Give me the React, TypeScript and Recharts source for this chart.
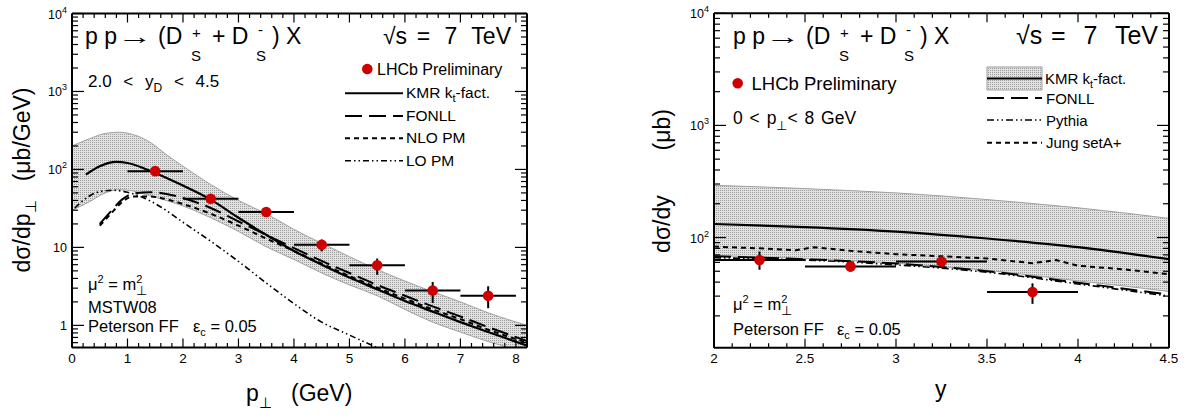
import React from 'react';
import { ComposedChart, Area, Line, Scatter, ErrorBar, XAxis, YAxis } from 'recharts';

const FONT = '"Liberation Sans", Arial, Helvetica, sans-serif';

// ---------- left panel: dsigma/dpT, 2.0 < y < 4.5 ----------
const ptBandX = [0, 0.3, 0.6, 0.85, 1.1, 1.4, 1.7, 2.0, 2.5, 3.0, 3.5, 4.0, 4.5, 5.0, 5.5, 6.0, 6.5, 7.0, 7.5, 8.2];
const ptBandHi = [200, 245, 290, 300, 280, 225, 155, 110, 64, 40, 27, 17, 11.3, 7.6, 5.2, 3.7, 2.7, 2.0, 1.45, 1.0];
const ptBandLo = [30, 38, 50, 55, 53, 46, 40, 34, 24, 16, 10.2, 7, 4.7, 3.3, 2.4, 1.6, 1.1, 0.82, 0.62, 0.45];

const ptKmrX = [0.25, 0.5, 0.8, 1.0, 1.3, 1.5, 2.0, 2.5, 3.0, 3.5, 4.0, 4.5, 5.0, 5.5, 6.0, 6.5, 7.0, 7.5, 8.2];
const ptKmr = [86, 110, 125, 121, 103, 90, 62, 41, 24, 14.5, 9.0, 6.0, 4.1, 2.9, 2.05, 1.5, 1.1, 0.82, 0.55];

const ptFonllX = [0.5, 0.7, 0.9, 1.1, 1.4, 1.6, 2.0, 2.5, 3.0, 3.5, 4.0, 4.5, 5.0, 5.5, 6.0, 6.5, 7.0, 7.5, 8.2];
const ptFonll = [20, 29, 41, 49, 51, 50, 43, 32, 21.5, 14.5, 9.8, 6.7, 4.7, 3.3, 2.4, 1.75, 1.3, 0.95, 0.63];
const ptNlo = [19, 27, 38, 45, 45, 43, 36, 27, 19, 13, 9.0, 6.2, 4.3, 3.05, 2.2, 1.6, 1.2, 0.88, 0.6];

const ptLoX = [0.05, 0.3, 0.5, 0.75, 1.0, 1.3, 1.6, 2.0, 2.5, 3.0, 3.5, 4.0, 4.5, 5.0, 5.6];
const ptLo = [32, 45, 52, 54, 51, 43, 33, 21, 12, 6.6, 3.5, 1.9, 1.1, 0.75, 0.48];

const ptDataX = [1.5, 2.5, 3.5, 4.5, 5.5, 6.5, 7.5];
const ptDataY = [95, 42, 28.4, 10.8, 5.9, 2.8, 2.4];
const ptDataErrLo = [8, 3.5, 2.5, 1.9, 1.45, 0.87, 0.74];
const ptDataErrHi = [8, 3.5, 2.5, 1.8, 1.3, 0.8, 0.77];

const ptXLabels = [0, 1, 2, 3, 4, 5, 6, 7, 8];

// ---------- right panel: dsigma/dy, 0 < pT < 8 GeV ----------
const yBandX = [2.0, 2.25, 2.5, 2.75, 3.0, 3.25, 3.5, 3.75, 4.0, 4.25, 4.5];
const yBandHi = [292, 283, 273, 262, 250, 235, 218, 201, 184, 166, 148];
const yBandLo = [69, 67, 65, 62, 59, 55, 51, 46, 41, 37, 33];

const yKmrX = [2.0, 2.5, 3.0, 3.5, 4.0, 4.5];
const yKmr = [132, 124, 113, 98, 82, 64];
const yFonll = [68, 64, 58.5, 50, 39.5, 31];
const yPythia = [66, 63, 57, 49, 38.5, 30];

const yJungX = [2.0, 2.25, 2.45, 2.55, 2.75, 3.0, 3.25, 3.5, 3.75, 3.88, 4.0, 4.25, 4.5];
const yJung = [83, 80, 77, 82, 76, 71, 68, 65, 59, 63, 56, 52, 47];

const yDataX = [2.25, 2.75, 3.25, 3.75];
const yDataY = [63, 55, 61, 32.6];
const yDataErrLo = [11.4, 5.2, 3, 7];
const yDataErrHi = [12, 6, 3.5, 6.4];

const yXLabels = [2, 2.5, 3, 3.5, 4, 4.5];

// ---------- helpers ----------
const series = (xs: number[], ys: number[]) => xs.map((x, i) => ({ x, y: ys[i] }));

const decadeTicks = (lo: number, hi: number) => {
  const out: number[] = [];
  for (let e = Math.floor(Math.log10(lo)); e <= Math.ceil(Math.log10(hi)); e++) {
    for (let k = 1; k <= 9; k++) {
      const v = Number((k * Math.pow(10, e)).toPrecision(3));
      if (v >= lo && v <= hi) out.push(v);
    }
  }
  return out;
};

const stepTicks = (lo: number, hi: number, step: number) => {
  const out: number[] = [];
  for (let i = 0; lo + i * step <= hi + 1e-9; i++) out.push(Number((lo + i * step).toFixed(3)));
  return out;
};

const isDecade = (v: number) => Math.abs(Math.log10(v) - Math.round(Math.log10(v))) < 1e-6;

const logTick = (side: 'left' | 'right', labels: boolean) => (p: any) => {
  const v = p.payload.value;
  const major = isDecade(v);
  const len = major ? 12 : 6;
  const d = side === 'left' ? 1 : -1;
  const e = Math.round(Math.log10(v));
  return (
    <g>
      <line x1={p.x} y1={p.y} x2={p.x + d * len} y2={p.y} stroke="#000" strokeWidth={1.2} />
      {labels && major && (
        <text x={p.x - 5} y={p.y + 5} textAnchor="end" fontSize={12.5} fontFamily={FONT} fill="#000">
          {e < 2 ? String(v) : <>10<tspan dy={-6} fontSize={9}>{e}</tspan></>}
        </text>
      )}
    </g>
  );
};

const linTick = (side: 'bottom' | 'top', majors: number[], labels: boolean) => (p: any) => {
  const v = p.payload.value;
  const major = majors.some((m) => Math.abs(m - v) < 1e-6);
  const len = major ? 9 : 4.5;
  const d = side === 'bottom' ? -1 : 1;
  return (
    <g>
      <line x1={p.x} y1={p.y} x2={p.x} y2={p.y + d * len} stroke="#000" strokeWidth={1.2} />
      {labels && major && (
        <text x={p.x} y={p.y + 15.5} textAnchor="middle" fontSize={13.5} fontFamily={FONT} fill="#000">
          {String(v)}
        </text>
      )}
    </g>
  );
};

const frame = { stroke: '#000', strokeWidth: 2 };

const Dot = (p: any) => <circle cx={p.cx} cy={p.cy} r={5.3} fill="#d00000" />;

const BandPattern = ({ id }: { id: string }) => (
  <defs>
    <pattern id={id} width={2} height={2} patternUnits="userSpaceOnUse">
      <rect width={2} height={2} fill="#e2e2e2" />
      <rect width={1} height={1} fill="#9c9c9c" />
    </pattern>
  </defs>
);

// axes are 1px thick boxes; the margins make the frame land on the reference pixels
const Axes = ({ xDomain, xTicks, xLabels, yDomain, yTicks }: any) => [
  <XAxis key="xb" xAxisId="b" dataKey="x" type="number" domain={xDomain} allowDataOverflow ticks={xTicks} interval={0}
    height={1} tickSize={0} tickMargin={0} tickLine={false} axisLine={frame} tick={linTick('bottom', xLabels, true)} />,
  <XAxis key="xt" xAxisId="t" orientation="top" dataKey="x" type="number" domain={xDomain} allowDataOverflow ticks={xTicks} interval={0}
    height={1} tickSize={0} tickMargin={0} tickLine={false} axisLine={frame} tick={linTick('top', xLabels, false)} />,
  <YAxis key="yl" yAxisId="l" type="number" scale="log" domain={yDomain} allowDataOverflow ticks={yTicks} interval={0}
    width={1} tickSize={0} tickMargin={0} tickLine={false} axisLine={frame} tick={logTick('left', true)} />,
  <YAxis key="yr" yAxisId="r" orientation="right" type="number" scale="log" domain={yDomain} allowDataOverflow ticks={yTicks} interval={0}
    width={1} tickSize={0} tickMargin={0} tickLine={false} axisLine={frame} tick={logTick('right', false)} />,
];

// ---------- left chart ----------
const PtPanel = () => {
  const band = ptBandX.map((x, i) => ({ x, band: [ptBandLo[i], ptBandHi[i]] }));
  const dataPts = ptDataX.map((x, i) => ({ x, y: ptDataY[i], ex: 0.5, ey: [ptDataErrLo[i], ptDataErrHi[i]] }));
  const xTicks = stepTicks(0, 8.2, 0.2);
  const yTicks = decadeTicks(0.52, 10000);
  return (
    <ComposedChart width={560} height={418} data={band} margin={{ top: 12.5, right: 32, bottom: 69.5, left: 71 }}>
      <BandPattern id="ptBandFill" />
      {Axes({ xDomain: [0, 8.2], xTicks, xLabels: ptXLabels, yDomain: [0.52, 10000], yTicks })}
      <Area xAxisId="b" yAxisId="l" type="monotone" dataKey="band" fill="url(#ptBandFill)" fillOpacity={1}
        stroke="#a0a0a0" strokeWidth={1} dot={false} activeDot={false} isAnimationActive={false} />
      <Line xAxisId="b" yAxisId="l" data={series(ptLoX, ptLo)} dataKey="y" type="monotone" stroke="#000" strokeWidth={1.6}
        strokeDasharray="6 3 1.5 3 1.5 3" dot={false} activeDot={false} isAnimationActive={false} />
      <Line xAxisId="b" yAxisId="l" data={series(ptFonllX, ptNlo)} dataKey="y" type="monotone" stroke="#000" strokeWidth={2}
        strokeDasharray="5 4" dot={false} activeDot={false} isAnimationActive={false} />
      <Line xAxisId="b" yAxisId="l" data={series(ptFonllX, ptFonll)} dataKey="y" type="monotone" stroke="#000" strokeWidth={2}
        strokeDasharray="17 7" dot={false} activeDot={false} isAnimationActive={false} />
      <Line xAxisId="b" yAxisId="l" data={series(ptKmrX, ptKmr)} dataKey="y" type="monotone" stroke="#000" strokeWidth={2.2}
        dot={false} activeDot={false} isAnimationActive={false} />
      <Scatter xAxisId="b" yAxisId="l" data={dataPts} dataKey="y" shape={Dot} isAnimationActive={false}>
        <ErrorBar dataKey="ex" direction="x" width={0} stroke="#000" strokeWidth={2} />
        <ErrorBar dataKey="ey" direction="y" width={0} stroke="#000" strokeWidth={2} />
      </Scatter>
    </ComposedChart>
  );
};

// ---------- right chart ----------
const YPanel = () => {
  const band = yBandX.map((x, i) => ({ x, band: [yBandLo[i], yBandHi[i]] }));
  const dataPts = yDataX.map((x, i) => ({ x, y: yDataY[i], ex: 0.25, ey: [yDataErrLo[i], yDataErrHi[i]] }));
  const xTicks = stepTicks(2, 4.5, 0.1);
  const yTicks = decadeTicks(10.4, 10000);
  return (
    <ComposedChart width={607} height={418} data={band} margin={{ top: 12.3, right: 17, bottom: 69.3, left: 133 }}>
      <BandPattern id="yBandFill" />
      {Axes({ xDomain: [2, 4.5], xTicks, xLabels: yXLabels, yDomain: [10.4, 10000], yTicks })}
      <Area xAxisId="b" yAxisId="l" type="monotone" dataKey="band" fill="url(#yBandFill)" fillOpacity={1}
        stroke="#a0a0a0" strokeWidth={1} dot={false} activeDot={false} isAnimationActive={false} />
      <Line xAxisId="b" yAxisId="l" data={series(yJungX, yJung)} dataKey="y" type="linear" stroke="#000" strokeWidth={2}
        strokeDasharray="5 4" dot={false} activeDot={false} isAnimationActive={false} />
      <Line xAxisId="b" yAxisId="l" data={series(yKmrX, yPythia)} dataKey="y" type="monotone" stroke="#000" strokeWidth={1.6}
        strokeDasharray="7 3 1.5 3 1.5 3" dot={false} activeDot={false} isAnimationActive={false} />
      <Line xAxisId="b" yAxisId="l" data={series(yKmrX, yFonll)} dataKey="y" type="monotone" stroke="#000" strokeWidth={2}
        strokeDasharray="17 7" dot={false} activeDot={false} isAnimationActive={false} />
      <Line xAxisId="b" yAxisId="l" data={series(yKmrX, yKmr)} dataKey="y" type="monotone" stroke="#000" strokeWidth={2.2}
        dot={false} activeDot={false} isAnimationActive={false} />
      <Scatter xAxisId="b" yAxisId="l" data={dataPts} dataKey="y" shape={Dot} isAnimationActive={false}>
        <ErrorBar dataKey="ex" direction="x" width={0} stroke="#000" strokeWidth={2} />
        <ErrorBar dataKey="ey" direction="y" width={0} stroke="#000" strokeWidth={2} />
      </Scatter>
    </ComposedChart>
  );
};

// ---------- titles, legends, annotations ----------
const Title = ({ x0 }: { x0: number }) => (
  <g fontFamily={FONT} fill="#000">
    <text x={x0} y={44} fontSize={23}>p p</text>
    <text x={x0 + 32} y={44} fontSize={23} textLength={35} lengthAdjust="spacingAndGlyphs">→</text>
    <text x={x0 + 73} y={44} fontSize={23}>(D</text>
    <text x={x0 + 107} y={38} fontSize={15}>+</text>
    <text x={x0 + 106} y={61} fontSize={15}>S</text>
    <text x={x0 + 127} y={44} fontSize={23}>+ D</text>
    <text x={x0 + 173} y={35} fontSize={15}>-</text>
    <text x={x0 + 171} y={61} fontSize={15}>S</text>
    <text x={x0 + 187} y={44} fontSize={23}>) X</text>
  </g>
);

const SqrtS = ({ x, end, size, gap }: { x: number; end: number; size: number; gap: number }) => (
  <g fontFamily={FONT} fill="#000">
    <text x={x} y={44} fontSize={size}>√s</text>
    <text x={end} y={44} fontSize={size} textAnchor="end" style={{ whiteSpace: 'pre', wordSpacing: gap }}>{'= 7 TeV'}</text>
  </g>
);

const Overlay = () => (
  <svg width={1187} height={418} style={{ position: 'absolute', left: 0, top: 0, pointerEvents: 'none' }}
    fontFamily={FONT}>
    <BandPattern id="legBandFill" />
    {/* left panel */}
    <Title x0={85} />
    <SqrtS x={383} end={511} size={23} gap={8} />
    <text x={88} y={87} fontSize={17} style={{ wordSpacing: 7 }}>2.0 &lt; y<tspan dy={5} fontSize={12}>D</tspan><tspan dy={-5}> &lt; 4.5</tspan></text>
    <circle cx={367.3} cy={69} r={5.3} fill="#d00000" />
    <text x={377} y={74.5} fontSize={16}>LHCb Preliminary</text>
    <line x1={345} y1={93.3} x2={403} y2={93.3} stroke="#000" strokeWidth={2} />
    <text x={406} y={97.5} fontSize={15.5}>KMR k<tspan dy={4} fontSize={11}>t</tspan><tspan dy={-4}>-fact.</tspan></text>
    <line x1={345} y1={116} x2={403} y2={116} stroke="#000" strokeWidth={2} strokeDasharray="17 7" />
    <text x={406} y={120.5} fontSize={15.5}>FONLL</text>
    <line x1={345} y1={138.3} x2={403} y2={138.3} stroke="#000" strokeWidth={2} strokeDasharray="5 4" />
    <text x={406} y={143} fontSize={15.5}>NLO PM</text>
    <line x1={345} y1={160.7} x2={403} y2={160.7} stroke="#000" strokeWidth={1.6} strokeDasharray="6 3 1.5 3 1.5 3" />
    <text x={406} y={165.5} fontSize={15.5}>LO PM</text>
    <text x={88} y={290} fontSize={16.5}>μ<tspan dy={-7} fontSize={11}>2</tspan><tspan dy={7}> = m</tspan><tspan dy={-7} fontSize={11}>2</tspan><tspan dx={-6} dy={12} fontSize={13}>⊥</tspan></text>
    <text x={88} y={313} fontSize={16.5}>MSTW08</text>
    <text x={88} y={332} fontSize={16.5}>Peterson FF</text>
    <text x={193} y={332} fontSize={16.5}>ε<tspan dy={4} fontSize={11}>c</tspan><tspan dy={-4}> = 0.05</tspan></text>
    <text transform="translate(30,180) rotate(-90)" textAnchor="middle" fontSize={23} style={{ whiteSpace: 'pre' }}>
      dσ/dp<tspan dy={6} fontSize={15}>⊥</tspan><tspan dy={-6}>{'   (μb/GeV)'}</tspan>
    </text>
    <text x={246} y={401} fontSize={23} style={{ whiteSpace: 'pre' }}>
      p<tspan dy={7} fontSize={15}>⊥</tspan><tspan dy={-7}>{'   (GeV)'}</tspan>
    </text>

    {/* right panel */}
    <Title x0={733} />
    <SqrtS x={1016} end={1158} size={25} gap={11} />
    <circle cx={737.7} cy={83.3} r={5.3} fill="#d00000" />
    <text x={751.5} y={90} fontSize={18.5}>LHCb Preliminary</text>
    <text x={733} y={124} fontSize={17.5} style={{ wordSpacing: 2 }}>0 &lt; p<tspan dy={6} fontSize={13}>⊥</tspan><tspan dy={-6}>&lt; 8 GeV</tspan></text>
    <rect x={987} y={67} width={55} height={23} fill="url(#legBandFill)" stroke="#a0a0a0" strokeWidth={1} />
    <line x1={987} y1={78.5} x2={1042} y2={78.5} stroke="#000" strokeWidth={2} />
    <text x={1045} y={84} fontSize={15}>KMR k<tspan dy={4} fontSize={10.5}>t</tspan><tspan dy={-4}>-fact.</tspan></text>
    <line x1={987} y1={98} x2={1042} y2={98} stroke="#000" strokeWidth={2} strokeDasharray="17 7" />
    <text x={1046} y={103.5} fontSize={15}>FONLL</text>
    <line x1={987} y1={120} x2={1042} y2={120} stroke="#000" strokeWidth={1.6} strokeDasharray="7 3 1.5 3 1.5 3" />
    <text x={1046} y={125.5} fontSize={15}>Pythia</text>
    <line x1={987} y1={142.7} x2={1042} y2={142.7} stroke="#000" strokeWidth={2} strokeDasharray="5 4" />
    <text x={1046} y={148} fontSize={15}>Jung setA+</text>
    <text x={733} y={310} fontSize={16.5}>μ<tspan dy={-7} fontSize={11}>2</tspan><tspan dy={7}> = m</tspan><tspan dy={-7} fontSize={11}>2</tspan><tspan dx={-6} dy={12} fontSize={13}>⊥</tspan></text>
    <text x={733} y={335} fontSize={16.5}>Peterson FF</text>
    <text x={837} y={335} fontSize={16.5}>ε<tspan dy={4} fontSize={11}>c</tspan><tspan dy={-4}> = 0.05</tspan></text>
    <text transform="translate(670,181) rotate(-90)" textAnchor="middle" fontSize={23} style={{ whiteSpace: 'pre' }}>
      {'dσ/dy       (μb)'}
    </text>
    <text x={935} y={397} fontSize={23}>y</text>
  </svg>
);

export default function App() {
  return (
    <div style={{ position: 'absolute', left: 0, top: 0, width: 1187, height: 418, background: '#fff', fontFamily: FONT }}>
      <div style={{ position: 'absolute', left: 0, top: 0 }}>
        <PtPanel />
      </div>
      <div style={{ position: 'absolute', left: 580, top: 0 }}>
        <YPanel />
      </div>
      <Overlay />
    </div>
  );
}
